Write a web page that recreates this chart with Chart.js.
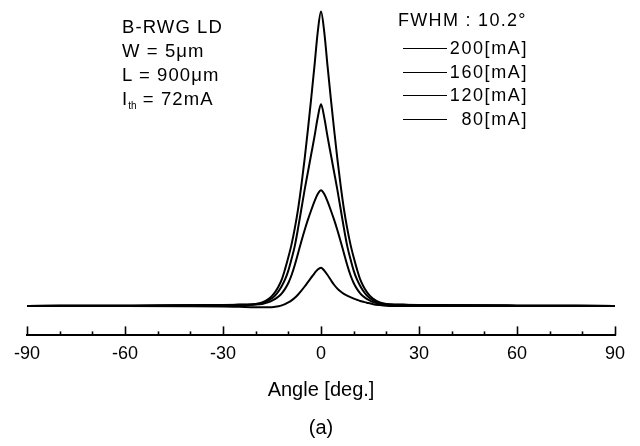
<!DOCTYPE html>
<html>
<head>
<meta charset="utf-8">
<script src="https://cdn.jsdelivr.net/npm/chart.js@4"></script>
<style>
  body { margin: 0; background: #fff; }
  #wrap { position: relative; width: 640px; height: 446px; font-family: "Liberation Sans", Arial, sans-serif; color: #000; }
  canvas { position: absolute; left: 0; top: 0; }
  .note { position: absolute; font-size: 18.5px; line-height: 24px; letter-spacing: 1.1px; white-space: nowrap; }
  .note sub { font-size: 10px; vertical-align: -4px; letter-spacing: 0; }
  .leg { position: absolute; left: 403px; width: 125px; height: 23px; font-size: 18px; line-height: 23px; letter-spacing: 1.6px; text-align: right; }
  .leg i { position: absolute; left: 0; top: 11px; width: 44px; border-top: 1.5px solid #000; }
</style>
</head>
<body>
<div id="wrap">
  <canvas id="chart" width="640" height="446"></canvas>
  <div class="note" style="left:122px; top:15px;">B-RWG LD<br>W = 5μm<br>L = 900μm<br>I<sub>th</sub> = 72mA</div>
  <div class="note" style="left:398px; top:9px; font-size:18px; line-height:23px; letter-spacing:1.3px;">FWHM : 10.2°</div>
  <div id="legend"></div>
</div>
<script>
// far-field angle [deg.]
const angles = [-90, -60, -40, -30, -25, -20, -18, -16, -15, -14, -13, -12, -11, -10, -9, -8, -7, -6, -5, -4, -3, -2, -1,
  0, 1, 2, 3, 4, 5, 6, 7, 8, 9, 10, 11, 12, 13, 14, 15, 16, 18, 20, 25, 30, 40, 60, 90];

// intensity (arb. units) per drive current
const i200 = [0, 0.1, 0.2, 0.3, 0.4, 0.7, 1.2, 2.4, 3.4, 4.8, 6.6, 9, 12.5, 16.5, 21, 26.5, 33, 41, 50, 60, 70.5, 81.5, 93,
  100, 93, 81.5, 70.5, 60, 50, 41, 33, 26.5, 21, 16.5, 12.5, 9, 6.6, 4.8, 3.4, 2.4, 1.2, 0.7, 0.4, 0.3, 0.2, 0.1, 0];
const i160 = [0, 0.1, 0.2, 0.3, 0.4, 0.6, 0.9, 1.9, 2.6, 3.6, 5, 6.8, 9, 12, 16, 20.5, 26.5, 33, 39.5, 45.5, 51.5, 57.5, 64,
  68.5, 64, 57.5, 51.5, 45.5, 39.5, 33, 26.5, 20.5, 16, 12, 9, 6.8, 5, 3.6, 2.6, 1.9, 0.9, 0.6, 0.4, 0.3, 0.2, 0.1, 0];
const i120 = [0, 0.1, 0.2, 0.3, 0.4, 0.5, 0.7, 1.3, 1.8, 2.4, 3.2, 4.3, 5.8, 7.8, 10.5, 14, 18, 22, 25.8, 29.3, 32.5, 35.5, 38,
  39.3, 38, 35.5, 32.5, 29.3, 25.8, 22, 18, 14, 10.5, 7.8, 5.8, 4.3, 3.2, 2.4, 1.8, 1.3, 0.7, 0.5, 0.4, 0.3, 0.2, 0.1, 0];
const i80 = [0, 0, -0.1, -0.2, -0.3, -0.4, -0.4, -0.4, -0.4, -0.3, -0.1, 0.2, 0.6, 1.2, 1.9, 2.8, 3.9, 5.2, 6.6, 8.1, 9.6, 11.1, 12.4,
  13, 12, 10.5, 8.8, 7.2, 5.9, 4.9, 4.1, 3.5, 3, 2.5, 2.1, 1.7, 1.4, 1.1, 0.9, 0.6, 0.3, 0.1, 0, 0, 0, 0, 0];

const currents = ['200[mA]', '160[mA]', '120[mA]', '80[mA]'];
const series = [i200, i160, i120, i80];
const xTicks = [-90, -60, -30, 0, 30, 60, 90];

// tick marks pointing up from the axis line
const tickMarks = {
  id: 'tickMarks',
  afterDraw(chart) {
    const ctx = chart.ctx, sx = chart.scales.x, y0 = chart.chartArea.bottom;
    ctx.save();
    ctx.strokeStyle = '#000';
    ctx.lineWidth = 1.6;
    for (let v = -90; v <= 90; v += 10) {
      const x = Math.round(sx.getPixelForValue(v)) + 0.5;
      const len = xTicks.includes(v) ? 9 : 4;
      ctx.beginPath();
      ctx.moveTo(x, y0);
      ctx.lineTo(x, y0 - len);
      ctx.stroke();
    }
    ctx.restore();
  }
};

new Chart(document.getElementById('chart'), {
  type: 'line',
  data: {
    datasets: series.map((s, k) => ({
      label: currents[k],
      data: angles.map((a, i) => ({ x: a, y: s[i] })),
      borderColor: '#000',
      borderWidth: 2,
      pointRadius: 0,
      fill: false,
      cubicInterpolationMode: 'monotone'
    }))
  },
  options: {
    responsive: false,
    animation: false,
    layout: { padding: { left: 27, right: 25, top: 5, bottom: 6 } },
    plugins: {
      legend: { display: false },
      tooltip: { enabled: false },
      title: {
        display: true,
        position: 'bottom',
        text: '(a)',
        color: '#000',
        font: { family: 'Liberation Sans', size: 20, weight: 'normal' },
        padding: { top: 14, bottom: 0 }
      }
    },
    scales: {
      x: {
        type: 'linear',
        min: -90,
        max: 90,
        grid: { display: true, drawOnChartArea: false, drawTicks: false },
        border: { display: true, color: '#000', width: 2 },
        ticks: {
          stepSize: 10,
          autoSkip: false,
          maxRotation: 0,
          padding: 8,
          color: '#000',
          font: { family: 'Liberation Sans', size: 18 },
          callback: v => (xTicks.includes(v) ? String(v) : '')
        },
        title: {
          display: true,
          text: 'Angle [deg.]',
          color: '#000',
          font: { family: 'Liberation Sans', size: 20 },
          padding: { top: 5, bottom: 0 }
        }
      },
      y: { display: false, min: -10, max: 102.2 }
    }
  },
  plugins: [tickMarks]
});

// legend rows, right-aligned text after a short line
const legend = document.getElementById('legend');
currents.forEach((c, k) => {
  const row = document.createElement('div');
  row.className = 'leg';
  row.style.top = (37 + k * 23.5) + 'px';
  row.innerHTML = '<i></i>' + c;
  legend.appendChild(row);
});
</script>
</body>
</html>
